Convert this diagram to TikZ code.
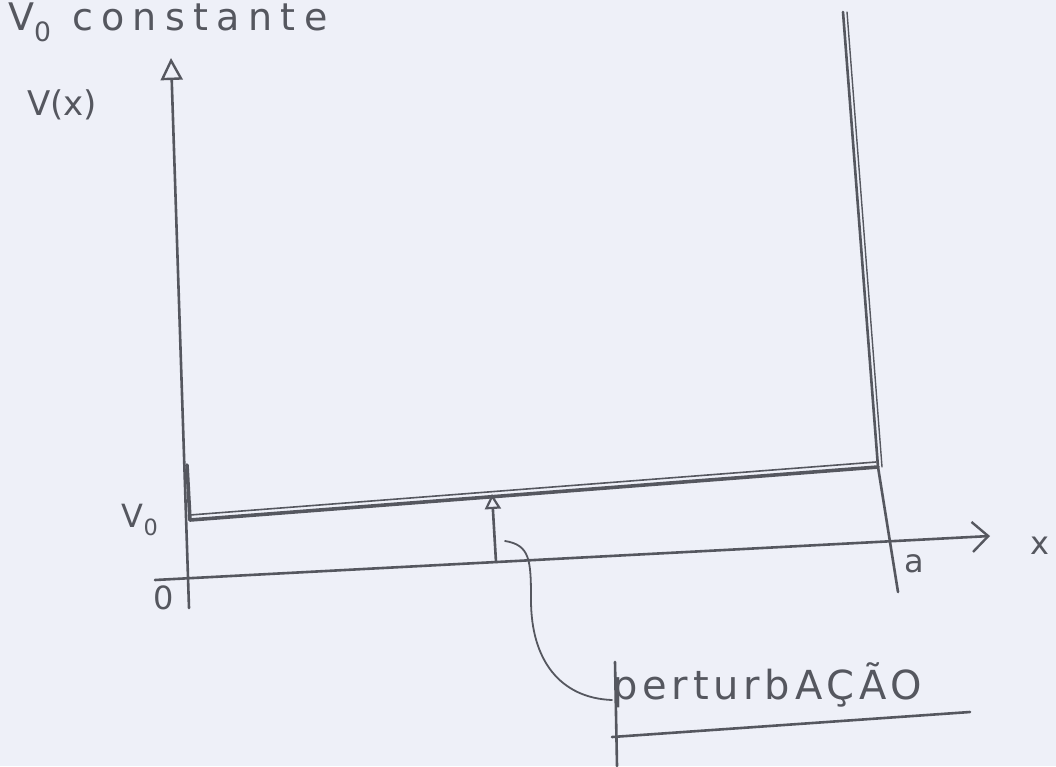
\documentclass[tikz,border=0pt]{standalone}
\usepackage{fontspec}
\setmainfont{DejaVu Sans}
\usetikzlibrary{arrows.meta}
\definecolor{paper}{HTML}{EEF0F8}
\definecolor{pencil}{HTML}{55575F}
\tikzset{
  pen/.style={draw=pencil, line width=2.6pt, line cap=round},
  heavy/.style={draw=pencil, line width=3.6pt, line cap=round},
  lbl/.style={text=pencil, inner sep=0pt, font=\fontsize{32}{32}\selectfont},
}
\begin{document}
\begin{tikzpicture}[x=1pt,y=-1pt]
\useasboundingbox (0,0) rectangle (1056,766);
\fill[paper] (0,0) rectangle (1056,766);
% title
\node[lbl, anchor=west, font=\fontsize{38}{38}\selectfont\addfontfeature{LetterSpace=22}] (title) at (8,22) {V\textsubscript{0} constante};
% axes
\coordinate (ybot) at (189,608);
\coordinate (ytop) at (171,58);
\draw[pen, -{Triangle[open, length=22pt, width=22pt, line width=2.4pt]}] (ybot) -- (ytop);
\coordinate (xl) at (155,580);
\coordinate (xr) at (990,536);
\draw[pen, -{Straight Barb[length=16pt, width=30pt, line width=2.4pt]}] (xl) -- (xr);
\node[lbl] (xlab) at (1040,546) {x};
\node[lbl, font=\fontsize{34}{34}\selectfont] (vlab) at (62,105) {V(x)};
\node[lbl] (v0lab) at (140,520) {V\textsubscript{0}};
\node[lbl] (zero) at (164,598) {0};
\node[lbl] (alab) at (914,564) {a};
% well
\coordinate (bl) at (190,520);
\coordinate (br) at (878,467);
\coordinate (rtop) at (843,12);
\coordinate (rbot) at (898,592);
\draw[heavy] (187,465) -- (bl);
\draw[heavy] (bl) -- (br);
\draw[pen, line width=1.6pt] (190,515) -- (876,462);
\draw[pen] (rtop) -- (br);
\draw[pen, line width=1.4pt] (847,12) -- (882,467);
\draw[pen] (br) -- (rbot);
% perturbation
\coordinate (pb) at (496,562);
\coordinate (pt) at (492,494);
\draw[pen, -{Triangle[open, length=15pt, width=16pt, line width=2.2pt]}] (pb) -- (pt);
\node[lbl, anchor=west, font=\fontsize{40}{40}\selectfont\addfontfeature{LetterSpace=12}] (pert) at (612,685) {perturbAÇÃO};
\coordinate (cs) at (505,541);
\draw[pen, line width=1.8pt] (cs) .. controls (530,545) and (531,560) .. (531,600)
   .. controls (531,660) and (560,698) .. (pert.west |- 0,700);
\draw[pen] (615,662) -- (617,766);
\draw[pen] (612,737) -- (970,712);
\end{tikzpicture}
\end{document}
